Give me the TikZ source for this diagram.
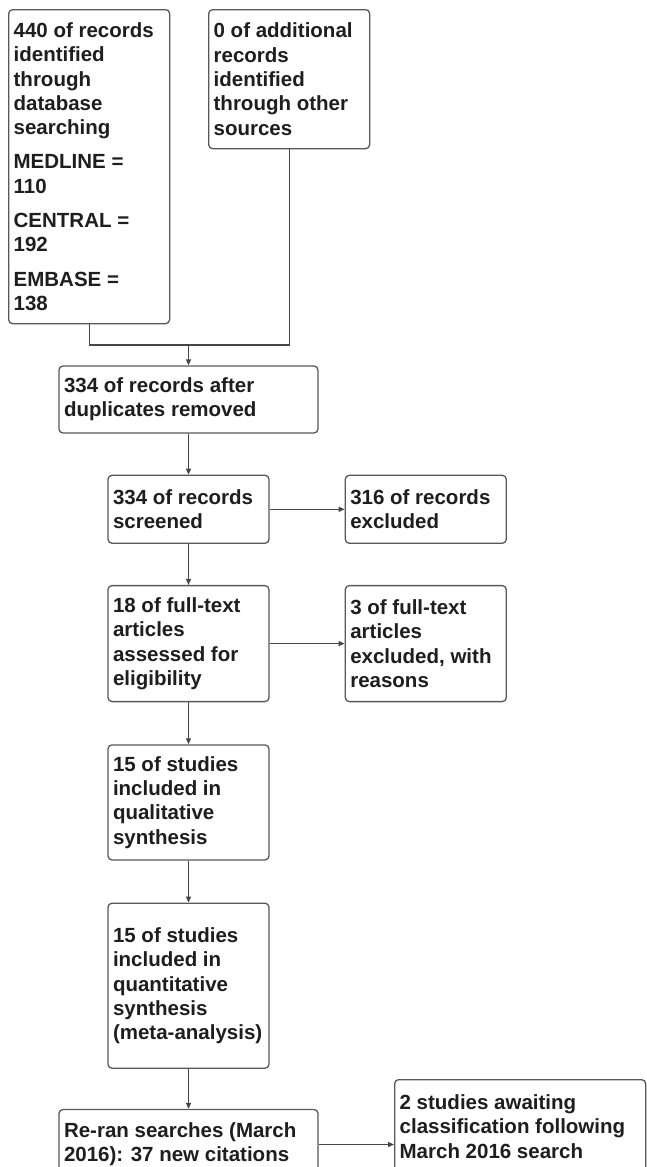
\documentclass[tikz,border=0pt]{standalone}
\usepackage{fontspec}
\setmainfont{Liberation Sans}
\usetikzlibrary{arrows.meta, positioning}
\definecolor{boxgray}{HTML}{585858}
\definecolor{linegray}{HTML}{454545}
\definecolor{textgray}{HTML}{1E1E1E}
\newcommand\flowfont{\fontsize{20.5}{24.3}\selectfont\bfseries}
\tikzset{
    % node styles
    box/.style = {draw=boxgray, line width=1.3pt, rounded corners=4pt, fill=white,
                  text=textgray, font=\flowfont, align=flush left,
                  inner xsep=5pt, inner ysep=0pt, text width=151pt},
    wide box/.style = {box, text width=249pt},
    % arrow style
    link/.style = {line width=1.3pt, draw=linegray},
    pre/.style = {<-, link, >={Triangle[length=6pt, width=5pt]}},
    post/.style = {->, link, >={Triangle[length=6pt, width=5pt]}}
}

\begin{document}
\begin{tikzpicture}[node distance=41pt and 75pt]
        \useasboundingbox (0,0) rectangle (647pt,-1167pt);
        \clip (0,0) rectangle (647pt,-1167pt);

        % sources
        \node[box, anchor=north west, minimum height=314pt] (A) at (8pt,-9pt)
            {440 of records\\identified\\through\\database\\searching\\[10pt]
             MEDLINE =\\110\\[10pt]CENTRAL =\\192\\[10pt]EMBASE =\\138};
        \node[box, anchor=north west, minimum height=139pt] (B) at (208pt,-9pt)
            {0 of additional\\records\\identified\\through other\\sources};
        \coordinate (merge) at (188.5pt,-345pt);

        % main column
        \node[wide box, minimum height=67pt] (C) at (188.5pt,-399.5pt)
            {334 of records after\\duplicates removed};
        \node[box, minimum height=68pt] (D) [below=of C]
            {334 of records\\screened}
            edge[pre] (C);
        \node[box, minimum height=68pt] (E) [right=of D]
            {316 of records\\excluded}
            edge[pre] (D);
        \node[box, minimum height=116pt] (F) [below=of D]
            {18 of full-text\\articles\\assessed for\\eligibility}
            edge[pre] (D);
        \node[box, minimum height=116pt] (G) [right=of F]
            {3 of full-text\\articles\\excluded, with\\reasons}
            edge[pre] (F);
        \node[box, minimum height=115pt] (H) [below=42pt of F]
            {15 of studies\\included in\\qualitative\\synthesis}
            edge[pre] (F);
        \node[box, minimum height=165pt] (I) [below=42pt of H]
            {15 of studies\\included in\\quantitative\\synthesis\\\mbox{(meta-analysis)}}
            edge[pre] (H);
        \node[wide box, minimum height=70pt] (J) [below=40pt of I]
            {Re-ran searches (March\\2016): 37 new citations}
            edge[pre] (I);
        \node[box, anchor=north west, text width=241pt, minimum height=94pt] (K) at (394pt,-1079pt)
            {2 studies awaiting\\classification following\\March 2016 search};

        % merge of the two sources
        \draw[link] (A.south) |- (merge) -| (B.south);
        \draw[post] (merge) -- (C);
        \draw[post] (J) -- (J -| K.west);

\end{tikzpicture}
\end{document}
